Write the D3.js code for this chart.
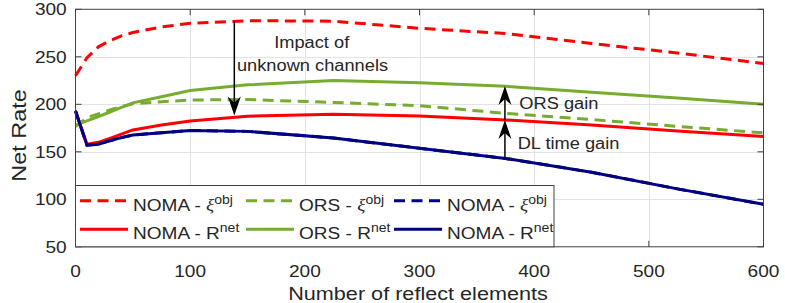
<html>
  <head>
    <script src="https://cdn.jsdelivr.net/npm/d3@7"></script>
    <style>
      body { margin: 0; background: white; }
      text { font-family: "Liberation Sans", Arial, Helvetica, sans-serif; fill: #262626; }
      .grid line { stroke: #e3e3e3; stroke-width: 1; }
      .box { fill: none; stroke: #404040; stroke-width: 1; }
      .tick-mark { stroke: #404040; stroke-width: 1; }
    </style>
  </head>
  <body>
    <svg id="chart" width="785" height="303"></svg>
    <script>
      // values
      var elements = [0, 10, 20, 30, 40, 50, 75, 100, 150, 225, 300, 375, 450, 525, 600];
      var nomaObj = [230, 249, 260.5, 267, 272, 275.5, 281.5, 285.2, 288, 287.5, 280, 274.5, 264, 254, 243];
      var nomaNet = [193, 158, 160, 164.2, 168.7, 173, 178.2, 182.5, 187.5, 189.5, 187.7, 183.5, 178.3, 172, 166];
      var orsObj = [176.5, 186, 190, 194, 197.5, 200.5, 202.7, 204.5, 205, 202, 198.5, 190.5, 184, 176.7, 170];
      var orsNet = [178, 182.5, 187, 191.9, 196.8, 201.5, 208, 214.5, 220.5, 225, 222.8, 219, 212.7, 206.6, 200];
      var noma2Obj = [193, 157, 158, 161.7, 164.9, 167.7, 170, 172.5, 171.5, 164.5, 153.7, 143, 128.5, 111, 94.7];
      var noma2Net = [193, 157, 158, 161.7, 164.9, 167.7, 170, 172.5, 171.5, 164.5, 153.7, 143, 128.5, 111, 94.7];

      var xTicks = [0, 100, 200, 300, 400, 500, 600];
      var yTicks = [50, 100, 150, 200, 250, 300];

      var series = [
        { label: 'NOMA - ', sup: 'obj', greek: true, values: nomaObj, color: '#ff0000', dash: true },
        { label: 'NOMA - ', sup: 'net', greek: false, values: nomaNet, color: '#ff0000', dash: false },
        { label: 'ORS - ', sup: 'obj', greek: true, values: orsObj, color: '#77ac30', dash: true },
        { label: 'ORS - ', sup: 'net', greek: false, values: orsNet, color: '#77ac30', dash: false },
        { label: 'NOMA - ', sup: 'obj', greek: true, values: noma2Obj, color: '#000080', dash: true },
        { label: 'NOMA - ', sup: 'net', greek: false, values: noma2Net, color: '#000080', dash: false }
      ];

      // plot frame (window.top is reserved, so not "top")
      var plotL = 75.5, plotR = 763.5, plotT = 9.3, plotB = 246.8;
      var stretch = 1.17; // the reference font runs wider than Arial

      var svg = d3.select('#chart');
      var x = d3.scaleLinear().domain([0, 600]).range([plotL, plotR]);
      var y = d3.scaleLinear().domain([50, 300]).range([plotB, plotT]);

      function label(g, px, py, str, size, anchor, rot) {
        return g.append('text')
          .attr('transform', 'translate(' + px + ',' + py + ') rotate(' + (rot || 0) + ') scale(' + stretch + ',1)')
          .attr('text-anchor', anchor || 'start')
          .style('font-size', size + 'px')
          .text(str);
      }

      // grid
      var grid = svg.append('g').attr('class', 'grid');
      grid.selectAll('.gx').data(xTicks.slice(1, -1)).enter().append('line')
        .attr('x1', function(d) { return Math.round(x(d)) + 0.5; })
        .attr('x2', function(d) { return Math.round(x(d)) + 0.5; })
        .attr('y1', plotT).attr('y2', plotB);
      grid.selectAll('.gy').data(yTicks.slice(1, -1)).enter().append('line')
        .attr('y1', function(d) { return Math.round(y(d)) + 0.5; })
        .attr('y2', function(d) { return Math.round(y(d)) + 0.5; })
        .attr('x1', plotL).attr('x2', plotR);

      // curves
      var line = d3.line()
        .x(function(d, i) { return x(elements[i]); })
        .y(function(d) { return y(d); });

      svg.append('g').selectAll('path').data(series).enter().append('path')
        .attr('d', function(s) { return line(s.values); })
        .attr('fill', 'none')
        .attr('stroke', function(s) { return s.color; })
        .attr('stroke-width', 3)
        .attr('stroke-dasharray', function(s) { return s.dash ? '11,6.5' : null; });

      // axes box with inward ticks on all four sides
      svg.append('rect').attr('class', 'box')
        .attr('x', plotL).attr('y', plotT).attr('width', plotR - plotL).attr('height', plotB - plotT);

      var axes = svg.append('g');
      xTicks.forEach(function(t) {
        axes.append('line').attr('class', 'tick-mark')
          .attr('x1', x(t)).attr('x2', x(t)).attr('y1', plotB).attr('y2', plotB - 6);
        axes.append('line').attr('class', 'tick-mark')
          .attr('x1', x(t)).attr('x2', x(t)).attr('y1', plotT).attr('y2', plotT + 6);
        label(axes, x(t), 276.7, t, 16.3, 'middle');
      });
      yTicks.forEach(function(t) {
        axes.append('line').attr('class', 'tick-mark')
          .attr('x1', plotL).attr('x2', plotL + 6).attr('y1', y(t)).attr('y2', y(t));
        axes.append('line').attr('class', 'tick-mark')
          .attr('x1', plotR).attr('x2', plotR - 6).attr('y1', y(t)).attr('y2', y(t));
        label(axes, 66.7, y(t) + 5.8, t, 16.3, 'end');
      });

      label(svg, 418, 300, 'Number of reflect elements', 18.5, 'middle');
      label(svg, 26, 135.5, 'Net Rate', 20, 'middle', -90);

      // annotations
      function arrow(g, xv, fromV, toV) {
        var px = x(xv), y0 = y(fromV), y1 = y(toV);
        var dir = y1 > y0 ? -1 : 1; // head points toward y1
        g.append('line')
          .attr('x1', px).attr('x2', px).attr('y1', y0).attr('y2', y1 + dir * 8)
          .attr('stroke', 'black').attr('stroke-width', 1.5);
        var L = 19, w = 6.5, n = 13;
        g.append('path')
          .attr('d', 'M' + px + ',' + y1 +
            'L' + (px - w) + ',' + (y1 + dir * L) +
            'L' + px + ',' + (y1 + dir * n) +
            'L' + (px + w) + ',' + (y1 + dir * L) + 'Z')
          .attr('fill', 'black');
      }

      var notes = svg.append('g');
      arrow(notes, 138.5, 287.6, 188.2);
      arrow(notes, 374.5, 143, 183.5);
      arrow(notes, 374.5, 183.5, 219.3);
      label(notes, 311.7, 47.7, 'Impact of', 15.6, 'middle');
      label(notes, 312.5, 70.7, 'unknown channels', 15.6, 'middle');
      label(notes, 519.3, 109.3, 'ORS gain', 15.6, 'start');
      label(notes, 517.7, 149, 'DL time gain', 15.6, 'start');

      // legend
      var legend = svg.append('g');
      legend.append('rect')
        .attr('x', plotL).attr('y', 185.5).attr('width', 554 - plotL).attr('height', plotB - 185.5)
        .attr('fill', 'white').attr('stroke', '#404040').attr('stroke-width', 1);

      var colX = [80, 246, 394];
      var rowY = [200.7, 229.3];
      series.forEach(function(s, i) {
        var cx = colX[Math.floor(i / 2)], cy = rowY[i % 2];
        legend.append('line')
          .attr('x1', cx).attr('x2', cx + 48).attr('y1', cy).attr('y2', cy)
          .attr('stroke', s.color).attr('stroke-width', 3)
          .attr('stroke-dasharray', s.dash ? '11,6.5' : null);
        var t = label(legend, cx + 53, cy + 10, s.label, 16.3, 'start');
        if (s.greek) {
          t.append('tspan').style('font-family', '"Liberation Serif", serif')
            .style('font-style', 'italic').text('ξ');
        } else {
          t.append('tspan').text('R');
        }
        t.append('tspan').attr('dy', -7).style('font-size', '12px').text(s.sup);
      });
    </script>
  </body>
</html>
